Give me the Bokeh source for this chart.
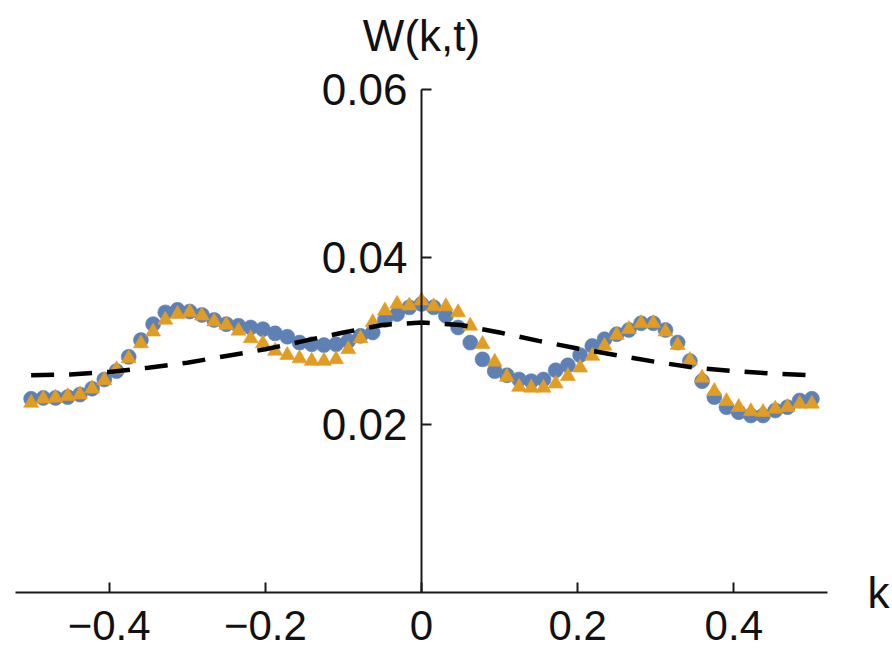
import numpy as np
from bokeh.plotting import figure
from bokeh.models import Range1d, FixedTicker, CustomJSTickFormatter, LinearAxis
from bokeh.embed import file_html
from bokeh.resources import INLINE

# ---- data ----
k_points = np.linspace(-0.5, 0.5, 65)
w_circles = [0.0231, 0.0232, 0.0232, 0.0233, 0.0236, 0.0243, 0.0254, 0.0264, 0.0281, 0.0301,
             0.0320, 0.0334, 0.0337, 0.0335, 0.0331, 0.0325, 0.0320, 0.0318, 0.0316, 0.0314,
             0.0309, 0.0305, 0.0298, 0.0296, 0.0295, 0.0296, 0.0300, 0.0306, 0.0310, 0.0325,
             0.0332, 0.0340, 0.0344, 0.0340, 0.0330, 0.0316, 0.0298, 0.0278, 0.0264, 0.0259,
             0.0254, 0.0252, 0.0254, 0.0265, 0.0271, 0.0283, 0.0294, 0.0302, 0.0308, 0.0313,
             0.0321, 0.0321, 0.0313, 0.0298, 0.0276, 0.0252, 0.0233, 0.0221, 0.0215, 0.0211,
             0.0211, 0.0217, 0.0221, 0.0229, 0.0231]
w_triangles = [0.0226, 0.0231, 0.0232, 0.0234, 0.0236, 0.0243, 0.0253, 0.0266, 0.0279, 0.0297,
               0.0311, 0.0325, 0.0332, 0.0334, 0.0330, 0.0323, 0.0319, 0.0312, 0.0303, 0.0297,
               0.0288, 0.0283, 0.0279, 0.0276, 0.0276, 0.0278, 0.0290, 0.0303, 0.0322, 0.0336,
               0.0344, 0.0342, 0.0348, 0.0341, 0.0341, 0.0334, 0.0318, 0.0296, 0.0275, 0.0257,
               0.0245, 0.0244, 0.0244, 0.0249, 0.0258, 0.0268, 0.0282, 0.0294, 0.0307, 0.0314,
               0.0321, 0.0321, 0.0311, 0.0295, 0.0277, 0.0256, 0.0240, 0.0228, 0.0221, 0.0216,
               0.0215, 0.0219, 0.0221, 0.0225, 0.0225]
k_line = [-0.5, -0.45, -0.4, -0.35, -0.3, -0.25, -0.2, -0.15, -0.1, -0.05, 0.0,
          0.05, 0.1, 0.15, 0.2, 0.25, 0.3, 0.35, 0.4, 0.45, 0.5]
w_line = [0.0259, 0.0260, 0.0263, 0.0268, 0.0274, 0.0282, 0.0290, 0.0300, 0.0310, 0.0319, 0.0322,
          0.0319, 0.0310, 0.0300, 0.0291, 0.0283, 0.0275, 0.0268, 0.0264, 0.0261, 0.0259]
x_ticks = [-0.4, -0.2, 0.0, 0.2, 0.4]
x_tick_labels = ["\u22120.4", "\u22120.2", "0", "0.2", "0.4"]
y_ticks = [0.02, 0.04, 0.06]
y_tick_labels = ["0.02", "0.04", "0.06"]
x_title = "k"
y_title = "W(k,t)"

FONT = "Liberation Sans"
AX = "#1a1a1a"
TXT = "#111111"

LABEL_JS = "const i = t.findIndex(v => Math.abs(v - tick) < 1e-9); return i >= 0 ? l[i] : '';"

p = figure(width=892, height=654, output_backend="svg", toolbar_location=None,
           x_range=Range1d(-0.52, 0.52), y_range=Range1d(0, 0.0626),
           min_border_left=15, min_border_right=63, min_border_top=66, min_border_bottom=62)
p.outline_line_color = None
p.grid.visible = False
p.background_fill_color = "white"
p.border_fill_color = "white"

# y-axis title as the plot title (frame centre is x = 0)
p.title.text = y_title
p.title.align = "center"
p.title.text_font = FONT
p.title.text_font_size = "44px"
p.title.text_font_style = "normal"
p.title.text_color = TXT
p.title.standoff = 16

# x axis
xa = p.xaxis[0]
xa.ticker = FixedTicker(ticks=x_ticks)
xa.formatter = CustomJSTickFormatter(args=dict(t=x_ticks, l=x_tick_labels), code=LABEL_JS)
xa.major_tick_in = 10
xa.major_tick_out = 0
xa.minor_tick_line_color = None
xa.axis_line_color = AX
xa.axis_line_width = 2
xa.major_tick_line_color = AX
xa.major_tick_line_width = 2
xa.major_label_text_font = FONT
xa.major_label_text_font_size = "42px"
xa.major_label_text_color = TXT
xa.major_label_standoff = 18

# y axis at x = 0
ya = p.yaxis[0]
ya.fixed_location = 0
ya.bounds = (0, 0.06)
ya.ticker = FixedTicker(ticks=y_ticks)
ya.formatter = CustomJSTickFormatter(args=dict(t=y_ticks, l=y_tick_labels), code=LABEL_JS)
ya.major_tick_in = 10
ya.major_tick_out = 0
ya.minor_tick_line_color = None
ya.axis_line_color = AX
ya.axis_line_width = 2
ya.major_tick_line_color = AX
ya.major_tick_line_width = 2
ya.major_label_text_font = FONT
ya.major_label_text_font_size = "44px"
ya.major_label_text_color = TXT
ya.major_label_standoff = 14

# "k" at the right end of the x axis
ka = LinearAxis(ticker=FixedTicker(ticks=[0]),
                formatter=CustomJSTickFormatter(args=dict(t=[0], l=[x_title]), code=LABEL_JS),
                axis_line_color=None, major_tick_line_color=None, minor_tick_line_color=None,
                major_tick_in=0, major_tick_out=0, major_label_standoff=40,
                major_label_text_font=FONT, major_label_text_font_size="44px",
                major_label_text_color=TXT)
p.add_layout(ka, "right")

# data
p.scatter(k_points, w_circles, marker="circle", size=15, fill_color="#5E81B5",
          line_color="#5E81B5", line_alpha=0.6)
p.scatter(k_points, w_triangles, marker="triangle", size=15, fill_color="#E19C24",
          line_color="#E19C24", line_alpha=0.6)
p.line(k_line, w_line, line_color="black", line_width=4.5, line_dash="23 15")

open("out.html", "w").write(file_html(p, INLINE))
